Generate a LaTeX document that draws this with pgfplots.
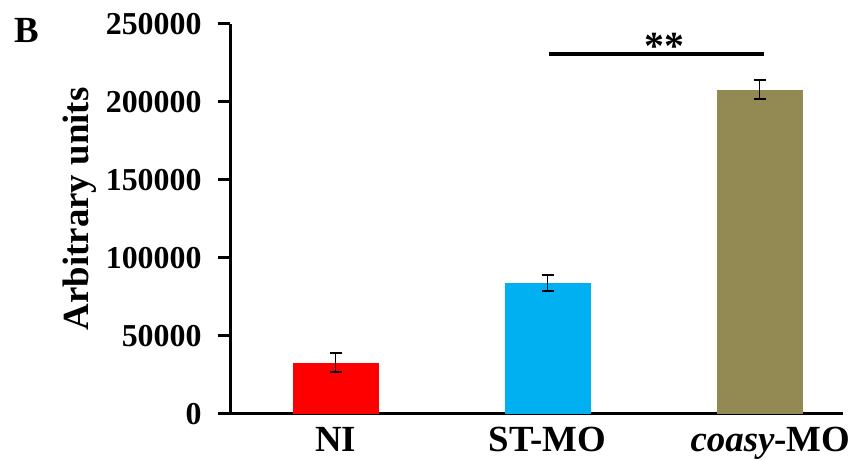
\documentclass[border=0pt]{standalone}
\usepackage{fontspec}
\setmainfont{Liberation Serif}
\usepackage{pgfplots}
\pgfplotsset{compat=1.18}
\definecolor{niRed}{RGB}{255,0,0}
\definecolor{stBlue}{RGB}{0,176,240}
\definecolor{coOlive}{RGB}{147,137,83}
\begin{document}
\begin{tikzpicture}[x=1bp,y=1bp]
\path[use as bounding box] (0,0) rectangle (860,460);
\node[anchor=base west, inner sep=0pt, font=\fontsize{37}{40}\selectfont\bfseries] at (14,417) {B};
\begin{axis}[
  at={(230bp,46bp)}, anchor=south west,
  scale only axis, width=613bp, height=390bp,
  xmin=-0.498, xmax=2.394, ymin=0, ymax=250000,
  axis lines=left, axis line style={-, line width=3bp, black},
  clip=false,
  tick align=outside, major tick length=12bp,
  ytick={0,50000,100000,150000,200000,250000},
  yticklabels={0,50000,100000,150000,200000,250000},
  scaled y ticks=false,
  ytick style={line width=3bp, black},
  xtick={0,1,2}, xtick style={draw=none},
  xticklabels={NI, ST-MO, \hspace*{22bp}\textit{coasy}-MO},
  yticklabel style={font=\fontsize{32}{36}\selectfont\bfseries, xshift=-13bp},
  xticklabel style={font=\fontsize{37}{40}\selectfont\bfseries, yshift=2bp},
  ylabel={Arbitrary units},
  ylabel style={font=\fontsize{37}{40}\selectfont\bfseries, at={(axis description cs:-0.2316,0.526)}, anchor=base},
]
\addplot[ybar, bar width=86bp, fill=niRed, draw=none,
  error bars/.cd, y dir=both, y explicit,
  error bar style={line width=1.5bp, black},
  error mark options={rotate=90, mark size=6bp, line width=1.5bp, black}]
  coordinates {(0,33000) +- (0,6100)};
\addplot[ybar, bar width=86bp, fill=stBlue, draw=none,
  error bars/.cd, y dir=both, y explicit,
  error bar style={line width=1.5bp, black},
  error mark options={rotate=90, mark size=6bp, line width=1.5bp, black}]
  coordinates {(1,84000) +- (0,5000)};
\addplot[ybar, bar width=86bp, fill=coOlive, draw=none,
  error bars/.cd, y dir=both, y explicit,
  error bar style={line width=1.5bp, black},
  error mark options={rotate=90, mark size=6bp, line width=1.5bp, black}]
  coordinates {(2,208000) +- (0,6100)};
\draw[line width=3.5bp, black] (axis cs:1.007,230800) -- (axis cs:2.02,230800);
\node[anchor=base, inner sep=0pt, font=\fontsize{40}{44}\selectfont\bfseries] at (axis cs:1.55,227000) {**};
\end{axis}
\end{tikzpicture}
\end{document}
